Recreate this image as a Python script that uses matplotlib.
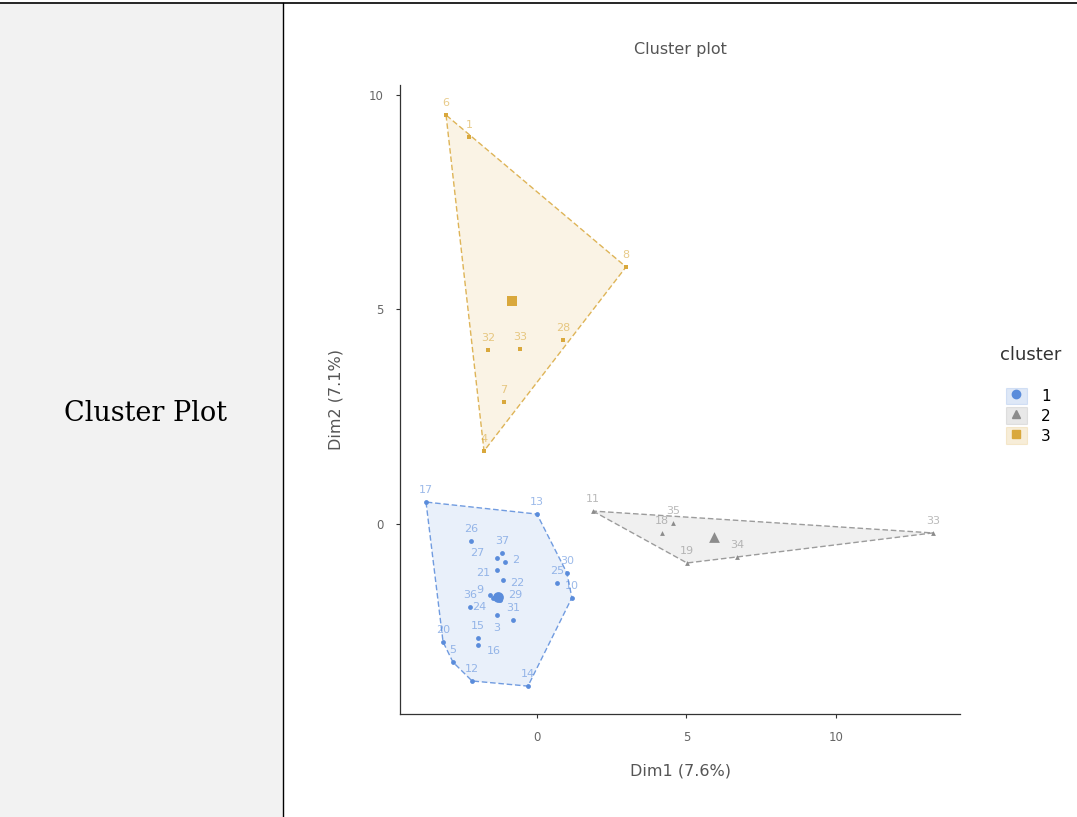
# Cluster plot (k-means on PCA dims), laid out as a two-cell table row
import numpy as np
import matplotlib
matplotlib.use('Agg')
import matplotlib.pyplot as plt
from matplotlib.patches import Rectangle, Polygon
from matplotlib.lines import Line2D

# cluster 1 (blue, circles)
c1_lab = ['17', '13', '26', '37', '27', '22', '21', '30', '25', '10', '36', '24',
          '29', '31', '3', '15', '16', '20', '5', '12', '14', '2', '9']
c1_x = [-3.71, 0.00, -2.21, -1.17, -1.34, -1.14, -1.34, 1.00, 0.67, 1.17, -2.24, -1.47,
        -1.24, -0.80, -1.34, -1.97, -1.97, -3.14, -2.81, -2.17, -0.30, -1.07, -1.57]
c1_y = [0.51, 0.23, -0.40, -0.68, -0.79, -1.31, -1.07, -1.14, -1.38, -1.72, -1.93, -1.72,
        -1.77, -2.24, -2.12, -2.66, -2.82, -2.75, -3.22, -3.66, -3.78, -0.89, -1.66]

# cluster 2 (grey, triangles)
c2_lab = ['11', '35', '18', '19', '34', '33']
c2_x = [1.87, 4.55, 4.18, 5.02, 6.69, 13.24]
c2_y = [0.30, 0.02, -0.21, -0.91, -0.77, -0.21]

# cluster 3 (gold, squares)
c3_lab = ['6', '1', '8', '32', '33', '28', '7', '4']
c3_x = [-3.04, -2.27, 2.98, -1.64, -0.57, 0.87, -1.10, -1.77]
c3_y = [9.53, 9.02, 5.99, 4.06, 4.08, 4.29, 2.84, 1.70]

CLUSTERS = [
    ('1', c1_x, c1_y, c1_lab, '#5A8CDB', 'o'),
    ('2', c2_x, c2_y, c2_lab, '#8C8C8C', '^'),
    ('3', c3_x, c3_y, c3_lab, '#D9A83C', 's'),
]

# label nudges (points) for the crowded middle of cluster 1
NUDGE = {'27': (-9, 0, 'right'), '2': (5, -2, 'left'), '21': (-5, -6, 'right'),
         '22': (5, -6, 'left'), '9': (-5, 0, 'right'), '24': (-5, -10, 'right'),
         '29': (6, 0, 'left'), '3': (0, -13, 'center'), '16': (6, -8, 'left')}


def hull(pts):
    # monotone chain convex hull
    pts = sorted(set(pts))
    if len(pts) < 3:
        return pts
    def cross(o, a, b):
        return (a[0] - o[0]) * (b[1] - o[1]) - (a[1] - o[1]) * (b[0] - o[0])
    lower, upper = [], []
    for p in pts:
        while len(lower) >= 2 and cross(lower[-2], lower[-1], p) <= 0:
            lower.pop()
        lower.append(p)
    for p in reversed(pts):
        while len(upper) >= 2 and cross(upper[-2], upper[-1], p) <= 0:
            upper.pop()
        upper.append(p)
    return lower[:-1] + upper[:-1]


fig = plt.figure(figsize=(10.77, 8.17), dpi=100, facecolor='white')

# table row: grey label cell + borders
fig.add_artist(Rectangle((0, 0), 283 / 1077, 1 - 4 / 817, transform=fig.transFigure,
                         facecolor='#F2F2F2', edgecolor='none', zorder=0))
fig.add_artist(Line2D([0, 1], [1 - 3 / 817, 1 - 3 / 817], transform=fig.transFigure,
                      color='black', lw=1.2))
fig.add_artist(Line2D([283 / 1077, 283 / 1077], [0, 1 - 3 / 817], transform=fig.transFigure,
                      color='black', lw=1.0))
fig.text(145 / 1077, 1 - 413 / 817, 'Cluster Plot', ha='center', va='center',
         fontsize=19.5, family='DejaVu Serif', color='black')

ax = fig.add_axes([400 / 1077, 103 / 817, 560 / 1077, 629 / 817])
ax.set_xlim(-4.58, 14.15)
ax.set_ylim(-4.43, 10.23)

handles = []
for name, xs, ys, labs, col, mk in CLUSTERS:
    h = hull(list(zip(xs, ys)))
    ax.add_patch(Polygon(h, closed=True, facecolor=col, alpha=0.13, edgecolor='none'))
    ax.add_patch(Polygon(h, closed=True, fill=False, edgecolor=col, lw=1.0, ls=(0, (4, 2)),
                         alpha=0.85))
    ax.scatter(xs, ys, marker=mk, s=12, color=col, zorder=3, linewidths=0)
    for x, y, t in zip(xs, ys, labs):
        dx, dy, ha = (0, 5, 'center')
        if name == '1' and t in NUDGE:
            dx, dy, ha = NUDGE[t]
        ax.annotate(t, (x, y), xytext=(dx, dy), textcoords='offset points', ha=ha,
                    va='bottom', fontsize=8, color=col, alpha=0.6)
    ax.scatter([np.mean(xs)], [np.mean(ys)], marker=mk, s=60, color=col, zorder=4,
               linewidths=0)
    handles.append((Rectangle((0, 0), 1, 1, facecolor=col, alpha=0.2, edgecolor=col, lw=0.8),
                    Line2D([], [], marker=mk, color=col, ls='none', markersize=6)))

ax.set_xticks([0, 5, 10])
ax.set_yticks([0, 5, 10])
ax.tick_params(labelsize=8.5, labelcolor='#666666', color='#333333', length=3, width=0.8,
               pad=9)
for s in ['top', 'right']:
    ax.spines[s].set_visible(False)
for s in ['left', 'bottom']:
    ax.spines[s].set_color('#333333')
    ax.spines[s].set_linewidth(0.9)
ax.set_xlabel('Dim1 (7.6%)', fontsize=11.5, color='#555555', labelpad=14)
ax.set_ylabel('Dim2 (7.1%)', fontsize=11.5, color='#555555', labelpad=18)
ax.set_title('Cluster plot', fontsize=11.5, color='#555555', pad=22)

fig.text(1000 / 1077, 1 - 355 / 817, 'cluster', fontsize=13, color='#333333',
         ha='left', va='center')
fig.legend(handles, ['1', '2', '3'], loc='upper left',
           bbox_to_anchor=(995 / 1077, 1 - 377 / 817), frameon=False, fontsize=11,
           handlelength=1.4, handleheight=1.3, labelspacing=0.2,
           handletextpad=0.9, borderpad=0.2)

plt.savefig('out.png', dpi=100, facecolor='white')
